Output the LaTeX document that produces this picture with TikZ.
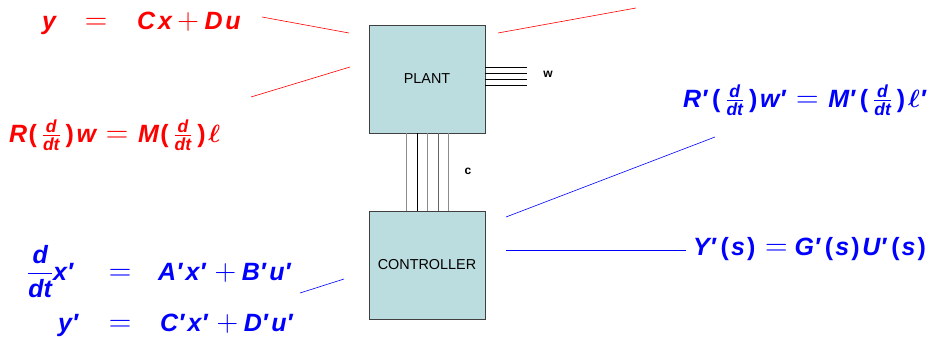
\RequirePackage{fix-cm}
\documentclass[tikz,border=0pt]{standalone}
\usepackage{amsmath,bm,graphicx}
\usepackage[no-math]{fontspec}
\setmainfont{Liberation Sans}
\newfontfamily\eqfont{Liberation Sans}
\usetikzlibrary{positioning}
\definecolor{boxfill}{RGB}{188,221,224}
\newcommand{\mv}[1]{\text{\eqfont\bfseries\itshape #1}}
\newcommand{\pr}{\text{\eqfont\bfseries\itshape ′}\mkern2.5mu}
\newcommand{\lp}{\mkern1mu\mathopen{\text{\eqfont\bfseries (}}\mkern1.5mu}
\newcommand{\rp}{\mkern1.5mu\mathclose{\text{\eqfont\bfseries )}}\mkern2mu}
\newcommand{\eqs}{\mathrel{\scalebox{1.25}{$=$}}}
\newcommand{\pls}{\mathbin{\scalebox{1.2}{$+$}}}
\newcommand{\ddt}{\mkern2mu\tfrac{\mv{d}}{\mv{dt}}\mkern2mu}
\tikzset{blk/.style = {draw=black!75, fill=boxfill, minimum width=116, minimum height=108, inner sep=0, font=\Large},
  eq/.style = {inner sep=0, font=\fontsize{25}{30}\selectfont},
  redline/.style = {red, line width=0.6pt},
  blueline/.style = {blue, line width=0.6pt}}

\begin{document}
\begin{tikzpicture}[x=1pt, y=-1pt]
    \useasboundingbox (0,0) rectangle (936,337);
    % blocks
    \node[blk] (plant) at (427,79) {PLANT};
    \node[blk] (ctrl) at (427,265) {CONTROLLER};
    % channel c between the blocks
    \foreach \x/\col in {406/black!45, 417/black, 427/black!45, 438/black!60, 448/black!45} {
        \draw[\col, line width=1pt] (\x,133) -- (\x,211);
    }
    \node[font=\large\bfseries] (clab) at (468,171) {c};
    % signals w
    \foreach \y in {67,73,79,85} {
        \draw[line width=0.8pt] (485,\y) -- (527,\y);
    }
    \node[font=\large\bfseries] (wlab) at (548,74) {w};
    % red equations (plant)
    \node[eq, red, anchor=base west] (py) at (42,30) {$\mv{y}$};
    \node[eq, red, anchor=base] (peq) at (96,30) {$\eqs$};
    \node[eq, red, anchor=base west] (prhs) at (137,30) {$\mv{C}\mkern2mu\mv{x}\pls\mv{D}\mkern2mu\mv{u}$};
    \node[eq, red, anchor=base west] (pbeh) at (9,142) {$\mv{R}\lp\ddt\rp\mv{w}\mkern2mu\eqs\mkern2mu\mv{M}\lp\ddt\rp\bm{\ell}$};
    \coordinate (pa1) at (262,17);
    \coordinate (pa2) at (349,33);
    \coordinate (pb1) at (251,97);
    \coordinate (pb2) at (350,67);
    \coordinate (pc1) at (498,33);
    \coordinate (pc2) at (636,8);
    \draw[redline] (pa1) -- (pa2);
    \draw[redline] (pb1) -- (pb2);
    \draw[redline] (pc1) -- (pc2);
    % blue equations (controller)
    \node[eq, blue, anchor=base west] (cbeh) at (683,107) {$\mv{R}\pr\lp\ddt\rp\mv{w}\pr\eqs\mkern2mu\mv{M}\pr\lp\ddt\rp\bm{\ell}\pr$};
    \node[eq, blue, anchor=base west] (ctf) at (693,255) {$\mv{Y}\pr\lp\mv{s}\rp\eqs\mv{G}\pr\lp\mv{s}\rp\mv{U}\pr\lp\mv{s}\rp$};
    \node[eq, blue, anchor=base west] (cdx) at (27,280) {$\dfrac{\mv{d}}{\mv{dt}}\mv{x}\pr$};
    \node[eq, blue, anchor=base] (ceq1) at (120,280) {$\eqs$};
    \node[eq, blue, anchor=base west] (crhs1) at (158,280) {$\mv{A}\pr\mv{x}\pr\pls\mv{B}\pr\mv{u}\pr$};
    \node[eq, blue, anchor=base west] (cy) at (58,331) {$\mv{y}\pr$};
    \node[eq, blue, anchor=base] (ceq2) at (120,331) {$\eqs$};
    \node[eq, blue, anchor=base west] (crhs2) at (160,331) {$\mv{C}\pr\mv{x}\pr\pls\mv{D}\pr\mv{u}\pr$};
    \coordinate (ca1) at (506,217);
    \coordinate (ca2) at (715,137);
    \coordinate (cb1) at (506,250);
    \coordinate (cb2) at (686,250);
    \coordinate (cc1) at (300,293);
    \coordinate (cc2) at (344,279);
    \draw[blueline] (ca1) -- (ca2);
    \draw[blueline] (cb1) -- (cb2);
    \draw[blueline] (cc1) -- (cc2);
  \end{tikzpicture}
\end{document}
